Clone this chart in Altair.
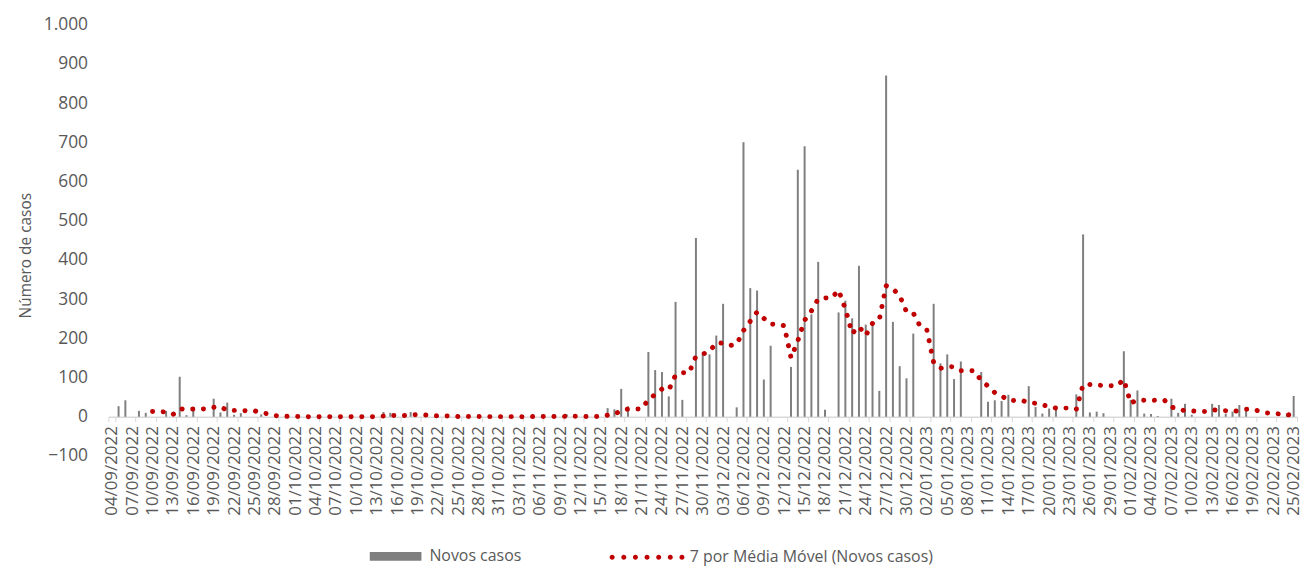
import altair as alt
import pandas as pd

# ---------------- data ----------------
datas = [d.strftime("%d/%m/%Y") for d in pd.date_range("2022-09-04", "2023-02-25", freq="D")]

casos_set = [0, 27, 42, 0, 15, 10, 0, 0, 15, 0, 102, 4, 16, 0, 0, 46, 11, 36, 5, 9,
             0, 0, 6, 0, 0, 0, 0]
casos_out = [0, 0, 0, 0, 0, 0, 0, 0, 0, 0, 0, 0, 0, 12, 10, 0, 0, 12, 0, 0,
             0, 3, 0, 0, 0, 0, 0, 2, 0, 0, 0]
casos_nov = [0, 0, 0, 0, 3, 0, 0, 0, 0, 6, 0, 0, 0, 0, 0, 22, 19, 71, 26, 0,
             0, 165, 119, 114, 52, 293, 43, 0, 456, 161]
casos_dez = [159, 207, 288, 0, 24, 700, 328, 322, 95, 181, 0, 0, 127, 630, 690, 261,
             395, 18, 0, 266, 296, 251, 385, 235, 235, 66, 870, 242, 129, 98, 212]
casos_jan = [0, 0, 288, 136, 159, 96, 141, 0, 0, 114, 38, 42, 40, 56, 0, 0,
             78, 25, 8, 21, 22, 0, 0, 57, 465, 11, 13, 9, 0, 0, 167]
casos_fev = [43, 67, 8, 7, 2, 0, 46, 10, 33, 5, 0, 0, 33, 30, 8, 13, 30, 18,
             0, 0, 0, 0, 0, 8, 53]

casos = casos_set + casos_out + casos_nov + casos_dez + casos_jan + casos_fev
rotulos = datas[::3]
y_ticks = list(range(-100, 1001, 100))

SERIE_BAR = "Novos casos"
SERIE_MM = "7 por Média Móvel (Novos casos)"

df = pd.DataFrame({"i": list(range(len(datas))), "data": datas, "casos": casos})

FONT = "Open Sans"
GREY_TXT = "#595959"

# legend symbol for the dotted moving-average line: 7 small round dots
_r = 0.07
_dots = "".join(
    f"M{c - _r:.3f},0a{_r},{_r} 0 1,0 {2 * _r},0a{_r},{_r} 0 1,0 {-2 * _r},0"
    for c in [-0.975, -0.65, -0.325, 0.0, 0.325, 0.65, 0.975]
)

x_axis = alt.Axis(
    values=rotulos, title=None, labelAngle=-90, labelFont=FONT, labelFontSize=17,
    labelColor=GREY_TXT, labelPadding=4, labelOverlap=False, labelBound=False,
    domainColor="#D9D9D9", domainWidth=1.5, tickColor="#D9D9D9", tickSize=5,
    tickWidth=1, tickBand="extent", offset=-39.45, grid=False,
)
x_scale = alt.Scale(domain=datas, paddingInner=0, paddingOuter=0)

y_scale = alt.Scale(domain=[-100, 1000], nice=False, zero=False)
y_axis = alt.Axis(
    values=y_ticks, title="Número de casos", grid=False, domain=False, ticks=False,
    labelExpr="replace(format(datum.value, ','), ',', '.')",
    labelOverlap=False, labelBound=False, labelFlush=False,
    labelFont=FONT, labelFontSize=17.5, labelColor=GREY_TXT, labelPadding=21,
    titleFont=FONT, titleFontSize=15.5, titleFontWeight="normal", titleColor=GREY_TXT,
    titlePadding=10, titleY=232,
)

base = alt.Chart(df)

bars = base.transform_calculate(serie_b=f"'{SERIE_BAR}'").mark_bar(width=2).encode(
    x=alt.X("data:N", scale=x_scale, sort=None, axis=x_axis),
    y=alt.Y("casos:Q", scale=y_scale, axis=y_axis),
    fill=alt.Fill(
        "serie_b:N",
        scale=alt.Scale(domain=[SERIE_BAR], range=["#7F7F7F"]),
        legend=alt.Legend(
            title=None, orient="none", legendX=263, legendY=509, padding=0,
            symbolType="M-1,-0.17H1V0.17H-1Z", symbolSize=2704, symbolStrokeWidth=0,
            labelFont=FONT, labelFontSize=16, labelColor=GREY_TXT, labelOffset=8,
            labelLimit=500,
        ),
    ),
)

mm = (
    base.transform_window(
        window=[
            alt.WindowFieldDef(op="mean", field="casos", **{"as": "mm"}),
            alt.WindowFieldDef(op="count", **{"as": "n"}),
        ],
        sort=[alt.SortField("i")],
        frame=[-6, 0],
    )
    .transform_filter("datum.n == 7")
    .transform_calculate(serie_l=f"'{SERIE_MM}'")
    .mark_line(strokeWidth=5, strokeDash=[0.1, 10.65], strokeCap="round")
    .encode(
        x=alt.X("data:N", scale=x_scale, sort=None, axis=x_axis),
        y=alt.Y("mm:Q", scale=y_scale, axis=y_axis),
        stroke=alt.Stroke(
            "serie_l:N",
            scale=alt.Scale(domain=[SERIE_MM], range=["#C00000"]),
            legend=alt.Legend(
                title=None, orient="none", legendX=506, legendY=500, padding=0,
                symbolType=_dots, symbolSize=5184, symbolStrokeWidth=0,
                symbolFillColor="#C00000",
                labelFont=FONT, labelFontSize=16, labelColor=GREY_TXT, labelOffset=7,
                labelLimit=500,
            ),
        ),
    )
)

chart = (
    alt.layer(bars, mm)
    .resolve_scale(fill="independent", stroke="independent")
    .properties(
        width=1196, height=434,
        autosize=alt.AutoSizeParams(type="none"),
        padding={"left": 101, "top": 15, "right": 9, "bottom": 110},
    )
    .configure_view(stroke=None)
    .configure_axisY(labelOverlap=False)
)

chart.save("out.html", embed_options={"renderer": "svg", "actions": False})
